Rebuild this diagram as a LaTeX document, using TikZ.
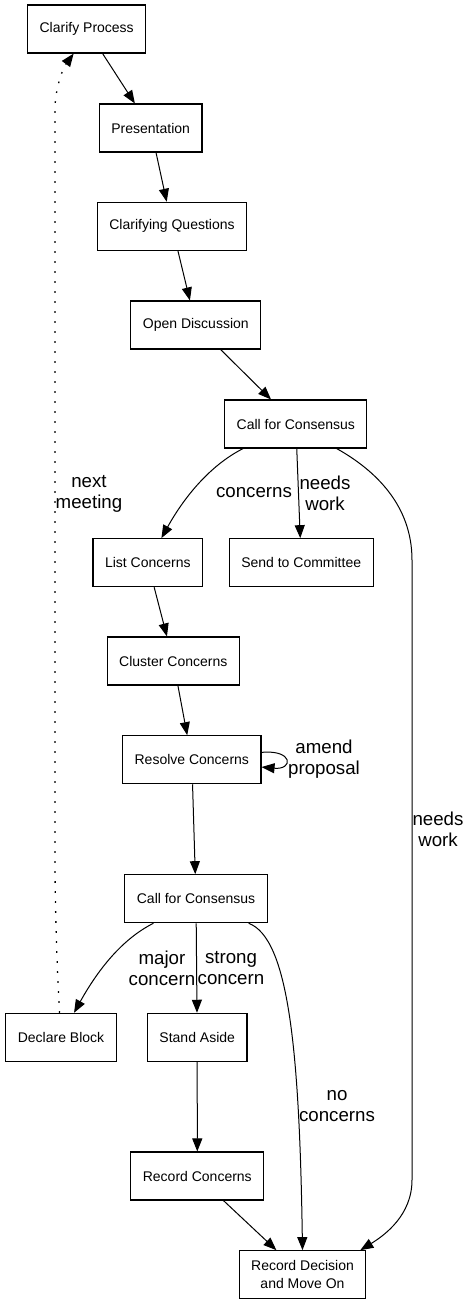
\documentclass[tikz,border=0pt]{standalone}
\usepackage{fontspec}
\setmainfont{Liberation Sans}
\usepackage{xcolor}
\usetikzlibrary{arrows.meta}
\tikzset{
  stage/.style={draw=black, line width=1.1pt, minimum height=48pt, inner xsep=12pt, inner ysep=0pt, align=center, font=\fontsize{14}{18}\selectfont},
  line/.style={-{Triangle[length=13pt, width=10pt]}, line width=1pt, draw=black},
  nextline/.style={line, line width=1.3pt, dash pattern=on 1.6pt off 8.4pt},
  tag/.style={align=center, inner sep=0pt, font=\fontsize{18.7}{21}\selectfont}
}

\begin{document}
\begin{tikzpicture}[x=1pt, y=-1pt]
  \useasboundingbox (0,0) rectangle (471,1304);

  \node[stage] (clarify) at (86.7,29) {Clarify Process};
  \node[stage] (present) at (150.7,128) {Presentation};
  \node[stage] (questions) at (172,226.3) {Clarifying Questions};
  \node[stage] (discuss) at (195.8,325) {Open Discussion};
  \node[stage] (callA) at (295.8,424) {Call for Consensus};
  \node[stage] (list) at (147.8,562.7) {List Concerns};
  \node[stage] (committee) at (301.2,562.7) {Send to Committee};
  \node[stage] (cluster) at (173.3,661) {Cluster Concerns};
  \node[stage] (resolve) at (191.8,759.7) {Resolve Concerns};
  \node[stage] (callB) at (196,898.7) {Call for Consensus};
  \node[stage] (block) at (61,1037.3) {Declare Block};
  \node[stage] (aside) at (197.2,1037.3) {Stand Aside};
  \node[stage] (record) at (197.3,1176) {Record Concerns};
  \node[stage] (decide) at (302.5,1274.7) {Record Decision\\and Move On};

  % edge labels
  \node[tag] (tconcerns) at (254,493) {concerns};
  \node[tag] (tworkA) at (325,493) {needs\\work};
  \node[tag] (tnext) at (89,494) {next\\meeting};
  \node[tag] (tamend) at (324,759) {amend\\proposal};
  \node[tag] (tworkB) at (438,829) {needs\\work};
  \node[tag] (tmajor) at (162,968) {major\\concern};
  \node[tag] (tstrong) at (231,968) {strong\\concern};
  \node[tag] (tnone) at (337,1106) {no\\concerns};

  \draw[line] (clarify) -- (present);
  \draw[line] (present) -- (questions);
  \draw[line] (questions) -- (discuss);
  \draw[line] (discuss) -- (callA);
  \draw[line] (callA.-155) .. controls +(-30,15) and +(25,-45) .. (list.61);
  \draw[line] (callA) -- (committee);
  \draw[line] (callA.-31) .. controls (375,470) and (412,505) .. (412,560)
    -- (412,1180) .. controls (412,1215) and (385,1235) .. (decide.23);
  \draw[line] (list) -- (cluster);
  \draw[line] (cluster) -- (resolve);
  \draw[line] (resolve.6) .. controls +(32,-3) and +(32,3) .. (resolve.-6);
  \draw[line] (resolve) -- (callB);
  \draw[line] (callB.-150) .. controls +(-30,15) and +(25,-45) .. (block.62);
  \draw[line] (callB) -- (aside);
  \draw[line] (callB.-25) .. controls +(40,15) and +(-3,-200) .. (decide.north);
  \draw[line] (aside) -- (record);
  \draw[line] (record) -- (decide);
  \draw[nextline] ([xshift=-1.5pt]block.north) .. controls (58,985) and (55,920) .. (55,860)
    -- (55,110) .. controls (55,88) and (63,68) .. (clarify.-118);
\end{tikzpicture}
\end{document}
